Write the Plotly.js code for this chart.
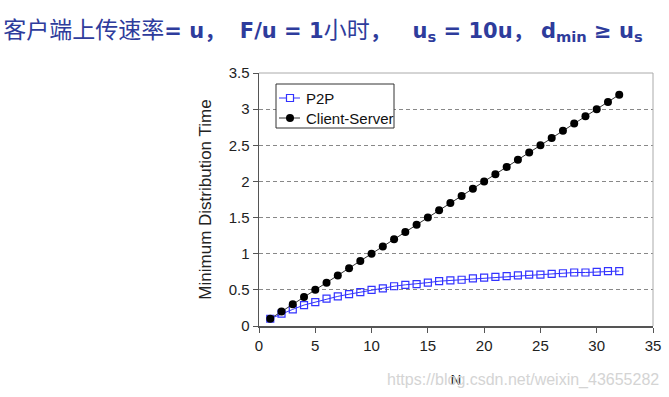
<!DOCTYPE html>
<html>
<head>
<meta charset="utf-8">
<script src="https://cdn.plot.ly/plotly-3.0.1.min.js"></script>
<style>html,body{margin:0;padding:0;background:#fff;}#chart{width:669px;height:397px;}</style>
</head>
<body>
<div id="chart"></div>
<script>
const N = [1,2,3,4,5,6,7,8,9,10,11,12,13,14,15,16,17,18,19,20,21,22,23,24,25,26,27,28,29,30,31,32];
const p2p = [0.10,0.17,0.23,0.29,0.33,0.38,0.41,0.44,0.47,0.50,0.52,0.55,0.57,0.58,0.60,0.62,0.63,0.64,0.66,0.67,0.68,0.69,0.70,0.71,0.71,0.72,0.73,0.74,0.74,0.75,0.76,0.76];
const clientServer = [0.1,0.2,0.3,0.4,0.5,0.6,0.7,0.8,0.9,1.0,1.1,1.2,1.3,1.4,1.5,1.6,1.7,1.8,1.9,2.0,2.1,2.2,2.3,2.4,2.5,2.6,2.7,2.8,2.9,3.0,3.1,3.2];
const seriesNames = ['P2P', 'Client-Server'];
const xTicks = [0,5,10,15,20,25,30,35];
const yTicks = [0,0.5,1,1.5,2,2.5,3,3.5];

const P2P_COLOR = '#3333ff', CS_COLOR = '#000000';

const traces = [
  {x: N, y: p2p, name: seriesNames[0], type: 'scatter', mode: 'lines+markers',
   line: {color: P2P_COLOR, width: 1},
   marker: {symbol: 'square-open', size: 7, color: P2P_COLOR, line: {width: 1.2}}},
  {x: N, y: clientServer, name: seriesNames[1], type: 'scatter', mode: 'lines+markers',
   line: {color: '#333333', width: 1},
   marker: {symbol: 'circle', size: 8, color: CS_COLOR}}
];

// plot area in pixels
const PL = 259, PR = 653, PT = 73, PB = 326;
const px = v => (v - PL) / (PR - PL);
const py = v => (PB - v) / (PB - PT);

const L = s => '<span style="font-size:21px">' + s + '</span>';
const S = '\u00a0';

// manual legend (box, samples, labels)
const legendShapes = [
  {type: 'rect', xref: 'paper', yref: 'paper', x0: px(276), x1: px(394), y0: py(84), y1: py(128),
   fillcolor: '#ffffff', line: {color: '#333', width: 1}, layer: 'above'},
  {type: 'line', xref: 'paper', yref: 'paper', x0: px(279), x1: px(300), y0: py(98), y1: py(98),
   line: {color: P2P_COLOR, width: 1}, layer: 'above'},
  {type: 'rect', xref: 'paper', yref: 'paper', x0: px(286.5), x1: px(293.5), y0: py(94.5), y1: py(101.5),
   fillcolor: '#ffffff', line: {color: P2P_COLOR, width: 1.2}, layer: 'above'},
  {type: 'line', xref: 'paper', yref: 'paper', x0: px(279), x1: px(300), y0: py(118), y1: py(118),
   line: {color: '#333', width: 1}, layer: 'above'},
  {type: 'circle', xref: 'paper', yref: 'paper', x0: px(286), x1: px(294), y0: py(114), y1: py(122),
   fillcolor: CS_COLOR, line: {color: CS_COLOR, width: 0}, layer: 'above'}
];
const legendAnn = [
  {text: seriesNames[0], xref: 'paper', yref: 'paper', x: px(304), y: py(98), xanchor: 'left', yanchor: 'middle',
   showarrow: false, font: {size: 15, color: '#111'}},
  {text: seriesNames[1], xref: 'paper', yref: 'paper', x: px(304), y: py(118), xanchor: 'left', yanchor: 'middle',
   showarrow: false, font: {size: 15, color: '#111'}}
];

const layout = {
  width: 669, height: 397,
  margin: {l: 259, r: 16, t: 73, b: 71},
  paper_bgcolor: '#ffffff', plot_bgcolor: '#ffffff',
  font: {family: 'Liberation Sans, Arial, sans-serif', size: 15, color: '#222'},
  showlegend: false,
  title: {
    text: '客户端上传速率' + L('<b>= u，' + S + S + 'F/u = 1</b>') + '小时' + L('<b>，' + S + S + S + 'u<sub>s</sub> = 10u，' + S + 'd<sub>min</sub> ≥ u<sub>s</sub></b>'),
    x: 0.005, xanchor: 'left', y: 0.925, yanchor: 'middle',
    font: {family: 'DejaVu Sans, Noto Sans CJK SC, sans-serif', size: 23, color: '#2e3c9c'}
  },
  xaxis: {
    range: [0, 35], tickvals: xTicks, ticktext: xTicks.map(String),
    showgrid: false, zeroline: false,
    showline: true, linecolor: '#555', linewidth: 1.5,
    ticks: 'outside', ticklen: 5, tickcolor: '#555',
    tickfont: {size: 15, color: '#222'},
    title: {text: 'N', standoff: 22, font: {size: 15, color: '#222'}}
  },
  yaxis: {
    range: [0, 3.5], tickvals: yTicks, ticktext: yTicks.map(String),
    showgrid: true, gridcolor: '#888', griddash: '4px,3px', gridwidth: 1,
    zeroline: false,
    showline: true, linecolor: '#555', linewidth: 1.5,
    ticks: 'outside', ticklen: 5, tickcolor: '#555',
    tickfont: {size: 15, color: '#222'},
    title: {text: 'Minimum Distribution Time', standoff: 12, font: {size: 17, color: '#222'}}
  },
  shapes: [
    {type: 'line', xref: 'paper', yref: 'paper', x0: 0, x1: 1, y0: 1, y1: 1, line: {color: '#aaa', width: 1}},
    {type: 'line', xref: 'paper', yref: 'paper', x0: 1, x1: 1, y0: 0, y1: 1, line: {color: '#aaa', width: 1}}
  ].concat(legendShapes),
  annotations: [
    {text: 'https://blog.csdn.net/weixin_43655282', xref: 'paper', yref: 'paper',
     x: 1.02, y: -0.215, xanchor: 'right', yanchor: 'middle', showarrow: false,
     font: {size: 16, color: '#d4d4d4'}}
  ].concat(legendAnn)
};

Plotly.newPlot('chart', traces, layout, {displayModeBar: false, staticPlot: true});
</script>
</body>
</html>
